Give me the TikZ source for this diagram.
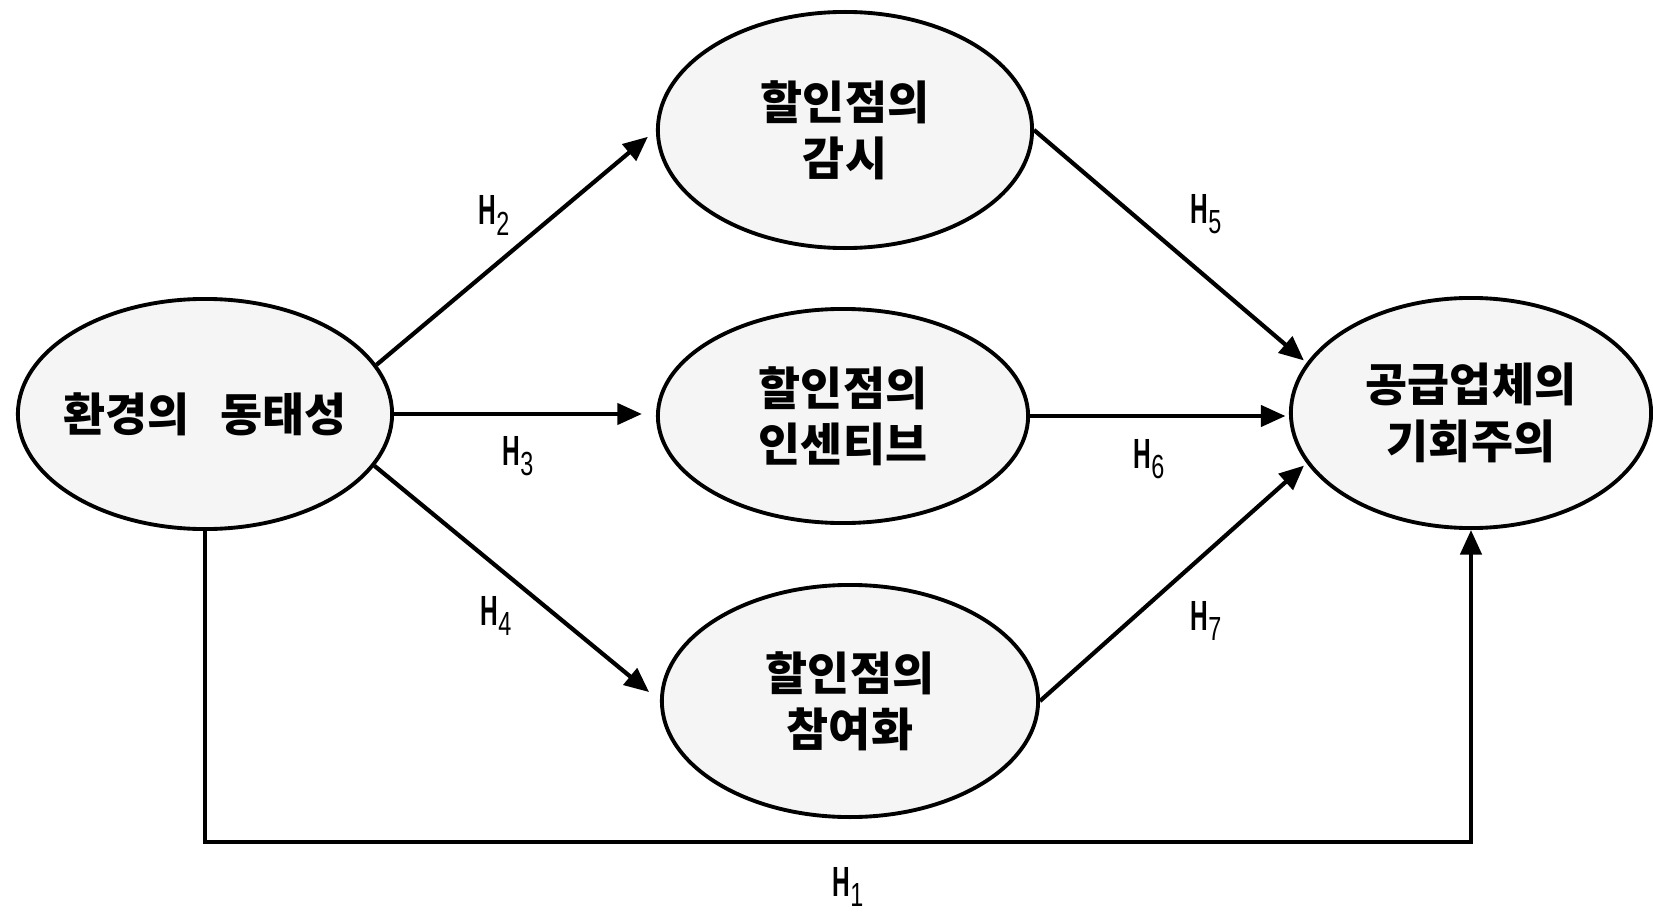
\documentclass[tikz,border=0pt]{standalone}
\usepackage{fontspec}
\setmainfont{Liberation Sans}
\newfontfamily\kr{Noto Sans CJK KR}
\usetikzlibrary{shapes.geometric,arrows.meta,calc}
\tikzset{
  oval/.style={ellipse, draw=black, line width=1.1pt, fill=black!4, inner sep=0pt,
    align=center, font=\kr\bfseries\fontsize{13}{16}\selectfont},
  arr/.style={line width=1.2pt, -{Triangle[length=7pt,width=6pt]}},
  hlab/.style={anchor=base west, inner sep=0pt, font=\fontsize{12}{14}\selectfont}
}
\newcommand{\Hyp}[1]{\scalebox{0.58}[1]{\bfseries H}\scalebox{0.7}[1]{\raisebox{-3pt}{\fontsize{9.5}{11}\selectfont #1}}}
\begin{document}
\begin{tikzpicture}[x=0.01cm,y=-0.01cm]
\useasboundingbox (0,0) rectangle (1653,912);
\node[oval, inner xsep=-6pt, minimum width=3.74cm, minimum height=2.30cm] (L) at (205,414) {환경의\ \ \ 동태성};
\node[oval, minimum width=3.74cm, minimum height=2.36cm] (T) at (845,130) {할인점의\\감시};
\node[oval, minimum width=3.70cm, minimum height=2.14cm] (M) at (843,416) {할인점의\\인센티브};
\node[oval, minimum width=3.76cm, minimum height=2.32cm] (B) at (850,701) {할인점의\\참여화};
\node[oval, minimum width=3.60cm, minimum height=2.30cm] (R) at (1471,413) {공급업체의\\기회주의};
\coordinate (bot) at (0,842);
\draw[arr, shorten >=3pt] (L.16) -- (T.west);
\draw[arr, shorten >=4pt] (L.east) -- (L.east -| M.west);
\draw[arr, shorten >=4pt] (L.-17) -- (B.west);
\draw[arr, shorten >=1pt] (T.east) -- (R.163);
\draw[arr, shorten >=1pt] (M.east) -- (M.east -| R.west);
\draw[arr, shorten >=1pt] (B.east) -- (R.197);
\draw[arr] (L.south) -- (L.south |- bot) -| (R.south);
\node[hlab] (h1) at (832,896) {\Hyp{1}};
\node[hlab] (h2) at (478,225) {\Hyp{2}};
\node[hlab] (h3) at (502,465) {\Hyp{3}};
\node[hlab] (h4) at (480,625) {\Hyp{4}};
\node[hlab] (h5) at (1190,223) {\Hyp{5}};
\node[hlab] (h6) at (1133,468) {\Hyp{6}};
\node[hlab] (h7) at (1190,630) {\Hyp{7}};
\end{tikzpicture}
\end{document}
